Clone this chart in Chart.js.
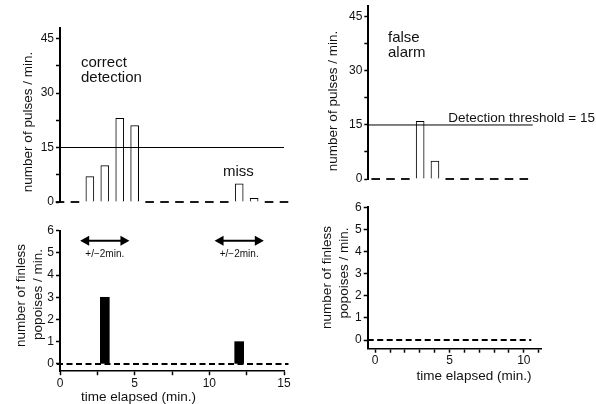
<!DOCTYPE html>
<html>
<head>
<meta charset="utf-8">
<script src="https://cdn.jsdelivr.net/npm/chart.js@4.4.1/dist/chart.umd.min.js"></script>
<style>
  body { margin: 0; background: #fff; width: 596px; height: 404px; position: relative; overflow: hidden; }
  canvas { position: absolute; }
</style>
</head>
<body>
<canvas id="tl" width="300" height="215" style="left:0;top:0"></canvas>
<canvas id="bl" width="300" height="189" style="left:0;top:215px"></canvas>
<canvas id="tr" width="296" height="200" style="left:300px;top:0"></canvas>
<canvas id="br" width="296" height="209" style="left:300px;top:195px"></canvas>
<script>
// left side: correct detection / miss
const minutesLeft = [0, 1, 2, 3, 4, 5, 6, 7, 8, 9, 10, 11, 12, 13, 14, 15];
const pulsesLeft = [0, 0, 7, 10, 23, 21, 0, 0, 0, 0, 0, 0, 5, 1, 0, 0];
const porpoisesLeft = [0, 0, 0, 3, 0, 0, 0, 0, 0, 0, 0, 0, 1, 0, 0, 0];
// right side: false alarm
const minutesRight = [0, 1, 2, 3, 4, 5, 6, 7, 8, 9, 10];
const pulsesRight = [0, 0, 0, 16, 5, 0, 0, 0, 0, 0, 0];
const porpoisesRight = [0, 0, 0, 0, 0, 0, 0, 0, 0, 0, 0];

const threshold = 15;
const thresholdSpanLeft = [0, 15];
const thresholdSpanRight = [-0.5, 10.6];
const baselineSpanLeft = [-0.2, 15.3];
const baselineSpanRight = [-0.5, 10.5];

const pulseTicks = [0, 15, 30, 45];
const pulseMinor = [7.5, 22.5, 37.5];
const porpoiseTicks = [0, 1, 2, 3, 4, 5, 6];
const timeTicksLeft = [0, 5, 10, 15];
const timeMinorLeft = [2.5, 7.5, 12.5];
const timeTicksRight = [0, 5, 10];
const timeMinorRight = [1, 2, 3, 4, 6, 7, 8, 9, 11];

const arrowHalfSpan = 1.65;   // minutes either side of a sighting
const arrowLevel = 5.55;
const arrowLabelLevel = 4.95;

const FONT = "'Liberation Sans', Arial, sans-serif";

function pts(xs, ys, keep) {
    return xs.map((x, i) => ({ x: x, y: ys[i] })).filter(p => keep(p.y));
}

function fixedTicks(major, minor) {
    return s => { s.ticks = major.concat(minor).sort((a, b) => a - b).map(v => ({ value: v })); };
}

function yAxis(min, max, major, minor, width) {
    return {
        type: 'linear', position: 'left', min: min, max: max,
        afterBuildTicks: fixedTicks(major, minor),
        afterFit: s => { s.width = width; s.paddingTop = 0; s.paddingBottom = 0; },
        border: { display: true, color: '#000', width: 2 },
        grid: { drawOnChartArea: false, tickLength: 4, tickColor: '#000', tickWidth: 1.5 },
        ticks: { autoSkip: false, padding: 2, color: '#111', font: { family: FONT, size: 12 },
                 callback: v => major.includes(v) ? String(v) : '' }
    };
}

function xAxis(min, max, major, minor, height) {
    const ax = {
        type: 'linear', position: 'bottom', min: min, max: max, offset: false,
        afterBuildTicks: fixedTicks(major, minor),
        afterFit: s => { s.height = height; s.paddingLeft = 0; s.paddingRight = 0; },
        border: { display: true, color: '#000', width: 1.5 },
        grid: { offset: false, drawOnChartArea: false, tickLength: 4, tickColor: '#000', tickWidth: 1.5 },
        ticks: { autoSkip: false, maxRotation: 0, padding: 1, color: '#111', font: { family: FONT, size: 12 },
                 callback: v => major.includes(v) ? String(v) : '' }
    };
    if (height === 0) ax.display = false;
    return ax;
}

function drawText(ctx, t) {
    ctx.save();
    ctx.font = (t.size || 13.5) + 'px ' + FONT;
    ctx.fillStyle = '#111';
    ctx.translate(t.x, t.y);
    if (t.rot) ctx.rotate(-Math.PI / 2);
    ctx.textAlign = t.align || 'left';
    ctx.textBaseline = t.base || 'alphabetic';
    ctx.fillText(t.text, 0, 0);
    ctx.restore();
}

function notes(texts, extra) {
    return {
        id: 'notes',
        afterDraw(chart) {
            texts.forEach(t => drawText(chart.ctx, t));
            if (extra) extra(chart);
        }
    };
}

function arrows(centers) {
    return chart => {
        const ctx = chart.ctx, xs = chart.scales.x, ys = chart.scales.y;
        const y = ys.getPixelForValue(arrowLevel);
        const ly = ys.getPixelForValue(arrowLabelLevel);
        ctx.save();
        ctx.fillStyle = '#000';
        ctx.strokeStyle = '#000';
        centers.forEach(c => {
            const x1 = xs.getPixelForValue(c - arrowHalfSpan);
            const x2 = xs.getPixelForValue(c + arrowHalfSpan);
            ctx.lineWidth = 2;
            ctx.beginPath(); ctx.moveTo(x1 + 5, y); ctx.lineTo(x2 - 5, y); ctx.stroke();
            ctx.beginPath(); ctx.moveTo(x1, y); ctx.lineTo(x1 + 9, y - 5); ctx.lineTo(x1 + 9, y + 5); ctx.closePath(); ctx.fill();
            ctx.beginPath(); ctx.moveTo(x2, y); ctx.lineTo(x2 - 9, y - 5); ctx.lineTo(x2 - 9, y + 5); ctx.closePath(); ctx.fill();
            drawText(ctx, { text: '+/\u22122min.', x: xs.getPixelForValue(c), y: ly, size: 10, align: 'center', base: 'middle' });
        });
        ctx.restore();
    };
}

function pulsePanel(id, minutes, pulses, span, xRange, pad, yWidth, texts) {
    new Chart(document.getElementById(id), {
        type: 'bar',
        data: {
            datasets: [
                { type: 'line', data: [{ x: span[0], y: threshold }, { x: span[1], y: threshold }],
                  borderColor: '#000', borderWidth: 1, pointRadius: 0, order: 0, clip: false },
                { type: 'bar', data: pts(minutes, pulses, v => v > 0), backgroundColor: '#fff',
                  borderColor: '#000', borderWidth: 1, barThickness: 8, order: 1, clip: false },
                { type: 'scatter', data: pts(minutes, pulses, v => v === 0), showLine: false,
                  pointStyle: 'line', pointRadius: 4.3, borderColor: '#000', borderWidth: 1.8, order: 2, clip: false }
            ]
        },
        options: {
            responsive: false, animation: false,
            layout: { padding: pad },
            plugins: { legend: { display: false }, tooltip: { enabled: false } },
            scales: {
                x: xAxis(xRange[0], xRange[1], [], [], 0),
                y: yAxis(0, 48, pulseTicks, pulseMinor, yWidth)
            }
        },
        plugins: [notes(texts)]
    });
}

function porpoisePanel(id, minutes, counts, baseSpan, xRange, yMin, pad, yWidth, xHeight, major, minor, texts) {
    const seen = minutes.filter((m, i) => counts[i] > 0);
    new Chart(document.getElementById(id), {
        type: 'bar',
        data: {
            datasets: [
                { type: 'bar', data: pts(minutes, counts, v => v > 0), backgroundColor: '#000',
                  borderWidth: 0, barThickness: 9, order: 1, clip: false },
                { type: 'line', data: [{ x: baseSpan[0], y: 0 }, { x: baseSpan[1], y: 0 }],
                  borderColor: '#000', borderWidth: 2, borderDash: [6, 3.5], pointRadius: 0, order: 2, clip: false }
            ]
        },
        options: {
            responsive: false, animation: false,
            layout: { padding: pad },
            plugins: { legend: { display: false }, tooltip: { enabled: false } },
            scales: {
                x: xAxis(xRange[0], xRange[1], major, minor, xHeight),
                y: yAxis(yMin, 6, porpoiseTicks, [], yWidth)
            }
        },
        plugins: [notes(texts, arrows(seen))]
    });
}

pulsePanel('tl', minutesLeft, pulsesLeft, thresholdSpanLeft, [0, 15],
    { left: 0, top: 27.6, right: 16, bottom: 13 }, 60, [
        { text: 'correct', x: 81, y: 66.5, size: 15 },
        { text: 'detection', x: 81, y: 81.5, size: 15 },
        { text: 'miss', x: 223, y: 176, size: 15 },
        { text: 'number of pulses / min.', x: 28.7, y: 122, rot: true, align: 'center', base: 'middle' }
    ]);

pulsePanel('tr', minutesRight, pulsesRight, thresholdSpanRight, [-0.5, 11.2],
    { left: 0, top: 4.9, right: 54.4, bottom: 21 }, 68.3, [
        { text: 'false', x: 88, y: 41.5, size: 15 },
        { text: 'alarm', x: 88, y: 56.5, size: 15 },
        { text: 'Detection threshold = 15', x: 148.3, y: 121.5 },
        { text: 'number of pulses / min.', x: 33.3, y: 101, rot: true, align: 'center', base: 'middle' }
    ]);

porpoisePanel('bl', minutesLeft, porpoisesLeft, baselineSpanLeft, [0, 15], -0.33,
    { left: 0, top: 15.7, right: 16, bottom: 0 }, 60, 32.8, timeTicksLeft, timeMinorLeft, [
        { text: 'number of finless', x: 21, y: 80.5, rot: true, align: 'center', base: 'middle' },
        { text: 'popoises / min.', x: 38, y: 79.5, rot: true, align: 'center', base: 'middle' },
        { text: 'time elapsed (min.)', x: 138.5, y: 182, align: 'center', base: 'middle' }
    ]);

porpoisePanel('br', minutesRight, porpoisesRight, baselineSpanRight, [-0.5, 11.2], -0.39,
    { left: 0, top: 12.3, right: 54.3, bottom: 0 }, 67.7, 55.3, timeTicksRight, timeMinorRight, [
        { text: 'number of finless', x: 27.5, y: 82.5, rot: true, align: 'center', base: 'middle' },
        { text: 'popoises / min.', x: 44.2, y: 78, rot: true, align: 'center', base: 'middle' },
        { text: 'time elapsed (min.)', x: 174, y: 181, align: 'center', base: 'middle' }
    ]);
</script>
</body>
</html>
